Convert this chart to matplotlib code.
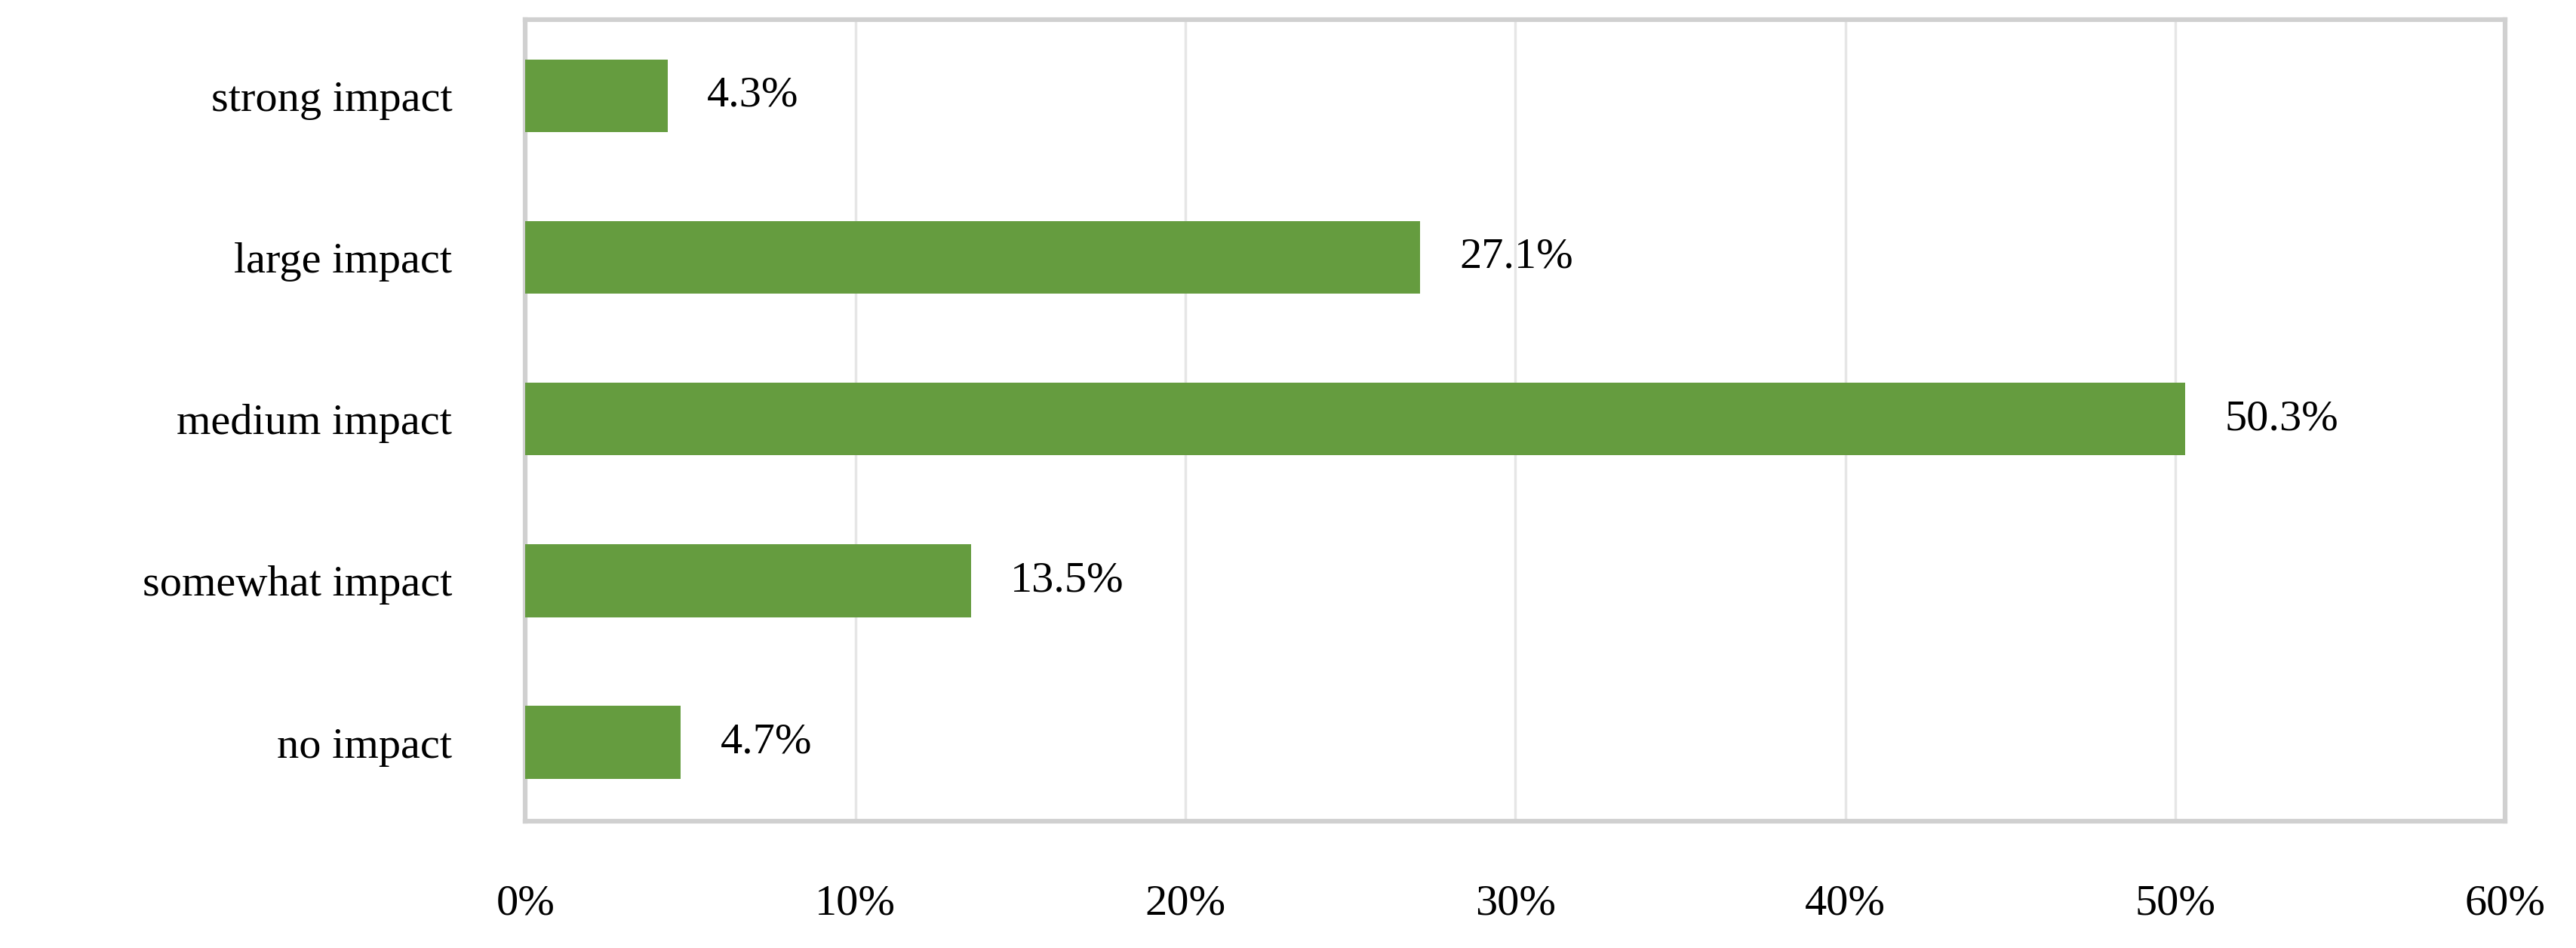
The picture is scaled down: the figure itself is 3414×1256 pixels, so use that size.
import matplotlib.pyplot as plt
from matplotlib.ticker import PercentFormatter

categories = ["no impact", "somewhat impact", "medium impact", "large impact", "strong impact"]
values = [4.7, 13.5, 50.3, 27.1, 4.3]

plt.rcParams['font.family'] = ['Liberation Serif', 'DejaVu Serif']

fig = plt.figure(figsize=(34.14, 12.56), dpi=100)
ax = fig.add_axes([0.204, 0.1334, 0.7686, 0.8458])

ax.barh(range(len(categories)), values, height=0.45, color="#659c3f", zorder=3)
for i, v in enumerate(values):
    ax.text(v + 1.2, i, f"{v:.1f}%", va="center", ha="left", fontsize=42)

ax.set_xlim(0, 60)
ax.set_ylim(-0.49, 4.47)
ax.set_xticks(range(0, 61, 10))
ax.xaxis.set_major_formatter(PercentFormatter(decimals=0))
ax.set_yticks(range(len(categories)))
ax.set_yticklabels(categories)
ax.tick_params(axis="both", length=0, labelsize=42)
ax.tick_params(axis="x", pad=60)
ax.tick_params(axis="y", pad=70)
ax.grid(axis="x", color="#e6e6e6", linewidth=2.5, zorder=0)
for s in ax.spines.values():
    s.set_color("#d0d0d0")
    s.set_linewidth(4.5)

fig.savefig("out.png", dpi=100)
